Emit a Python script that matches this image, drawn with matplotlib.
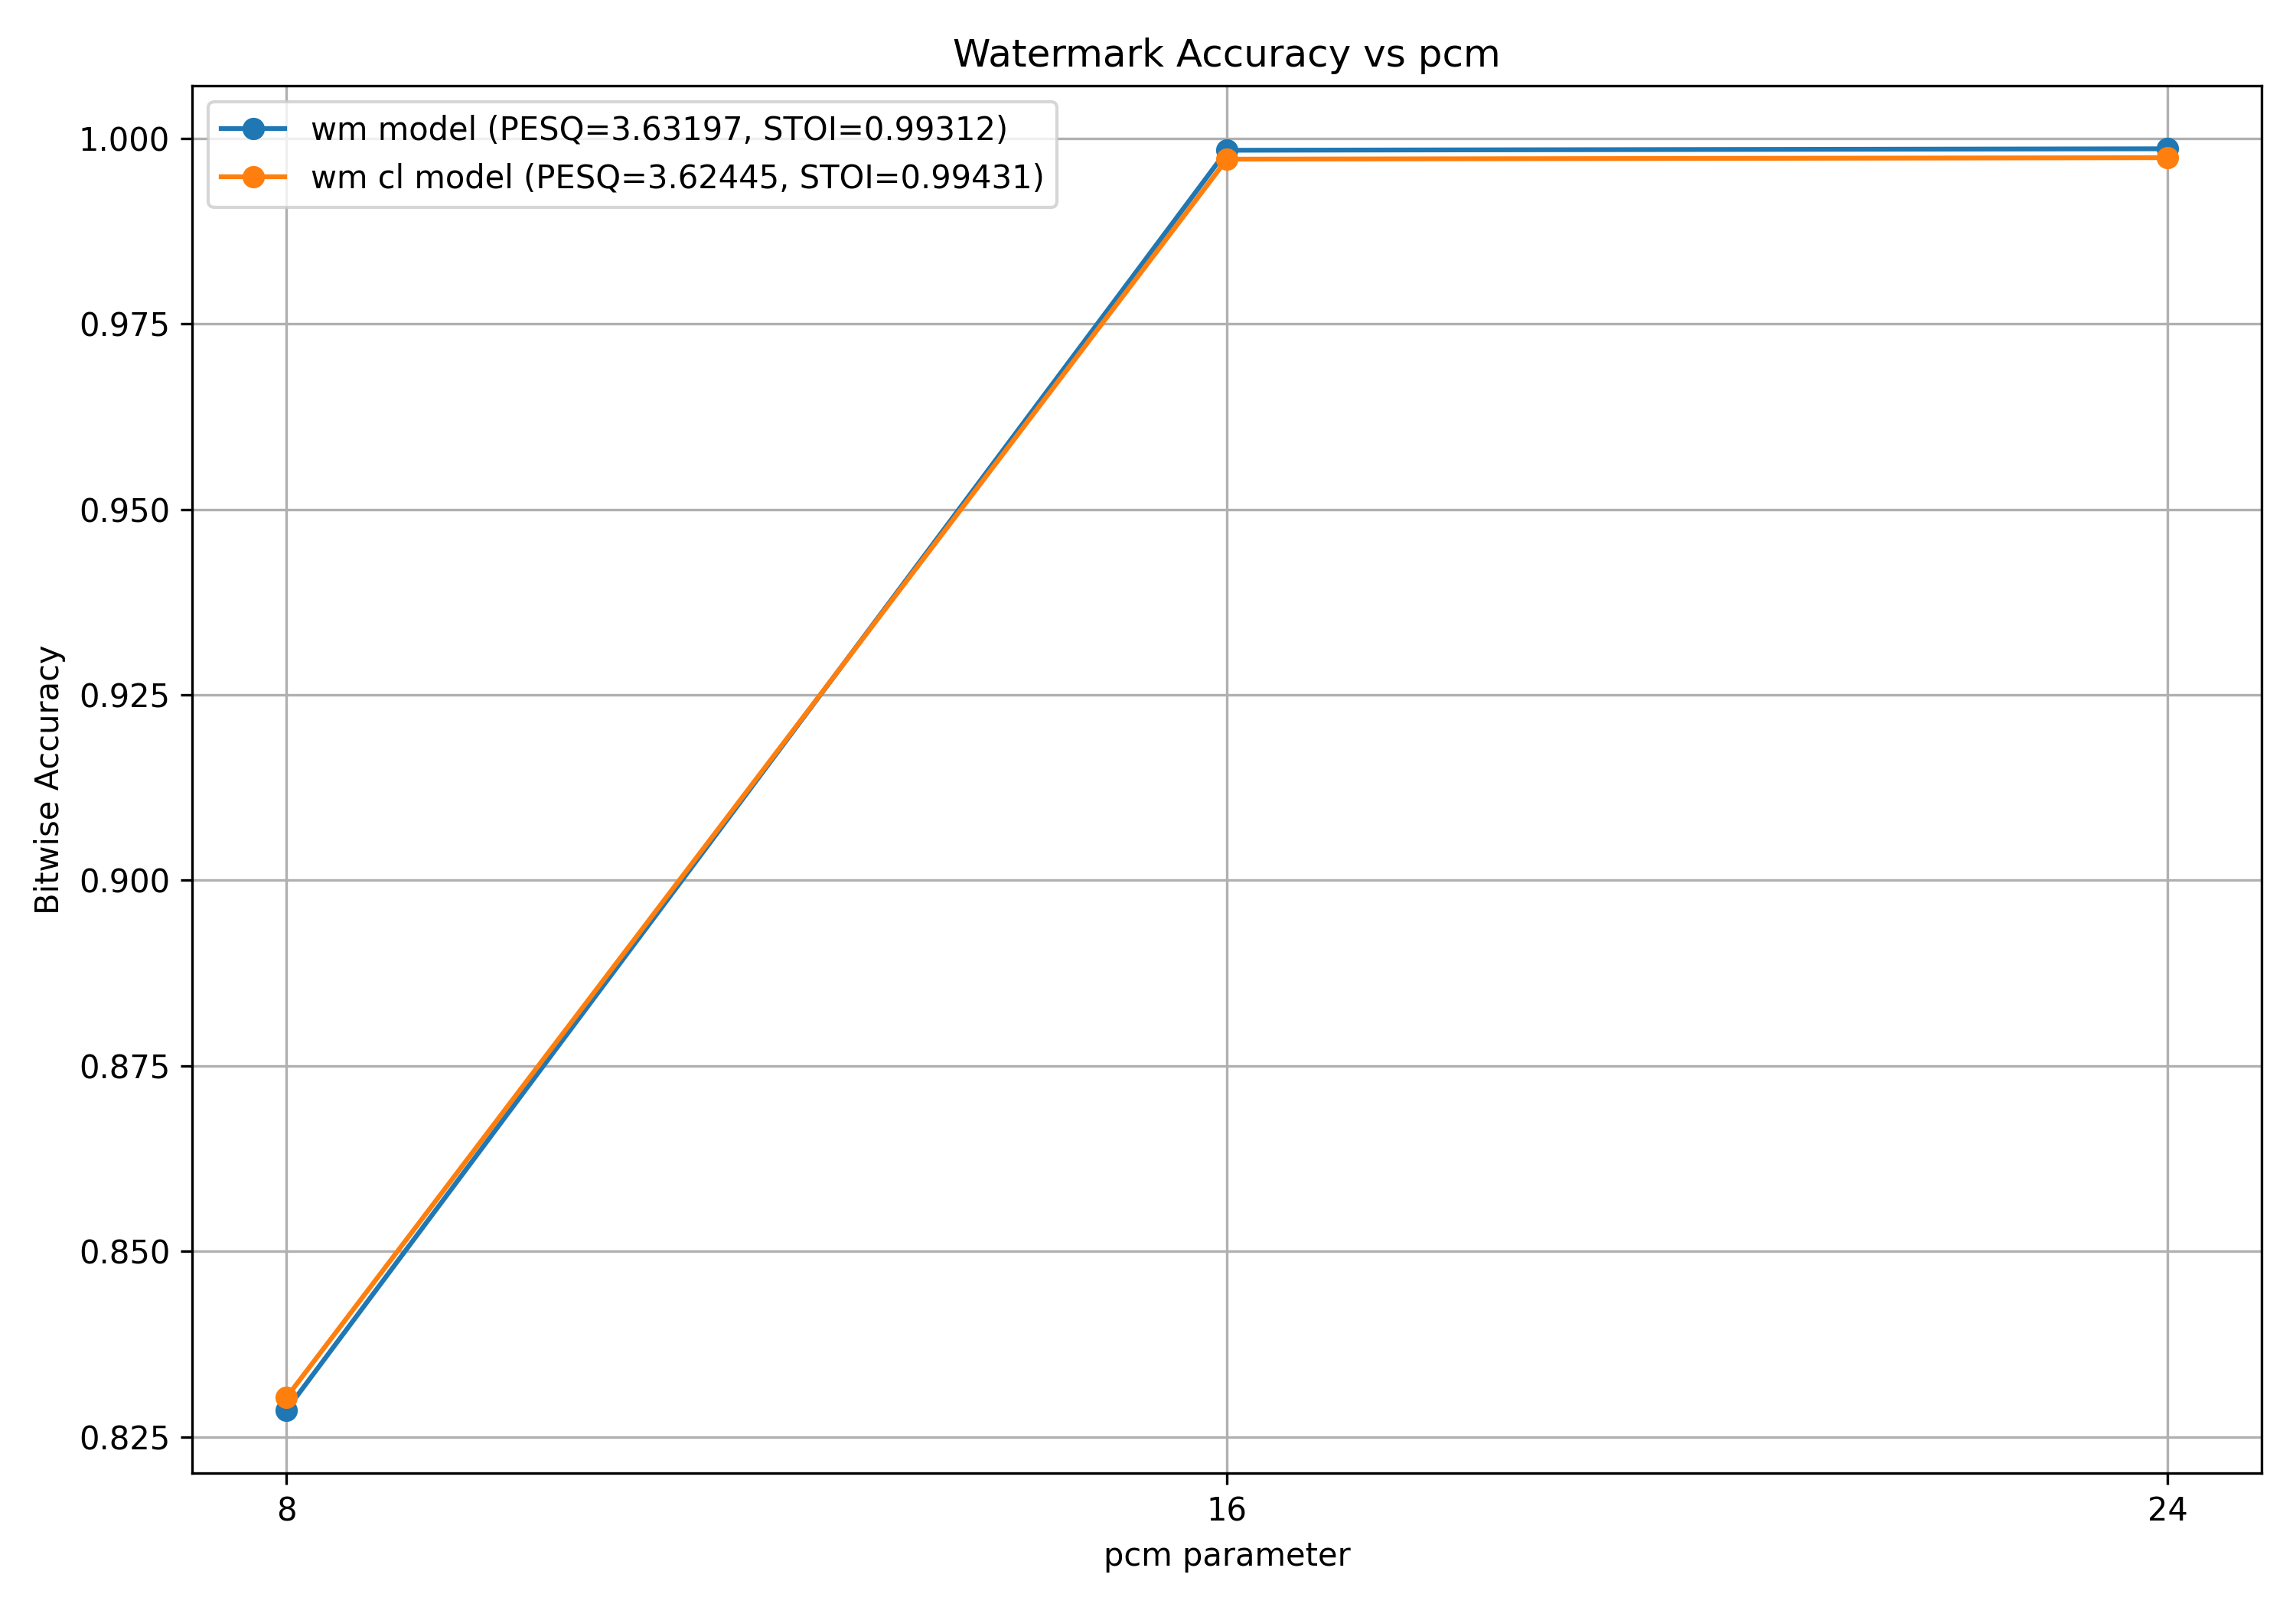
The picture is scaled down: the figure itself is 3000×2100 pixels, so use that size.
import matplotlib
matplotlib.use("Agg")
import matplotlib.pyplot as plt

# ── Data ──────────────────────────────────────────────────────────────────
pcm_values = [8, 16, 24]
wm_acc = [0.8286, 0.9984, 0.9986]
wm_cl_acc = [0.8303, 0.9972, 0.9974]
wm_label = "wm model (PESQ=3.63197, STOI=0.99312)"
wm_cl_label = "wm cl model (PESQ=3.62445, STOI=0.99431)"

fig, ax = plt.subplots(figsize=(10, 7))
ax.plot(pcm_values, wm_acc, marker="o", label=wm_label)
ax.plot(pcm_values, wm_cl_acc, marker="o", label=wm_cl_label)

ax.set_xticks(pcm_values)
ax.set_xlabel("pcm parameter")
ax.set_ylabel("Bitwise Accuracy")
ax.set_title("Watermark Accuracy vs pcm")
ax.legend(loc="upper left")
ax.grid(True)

plt.tight_layout()
plt.savefig("out.png", dpi=300)
plt.close()
